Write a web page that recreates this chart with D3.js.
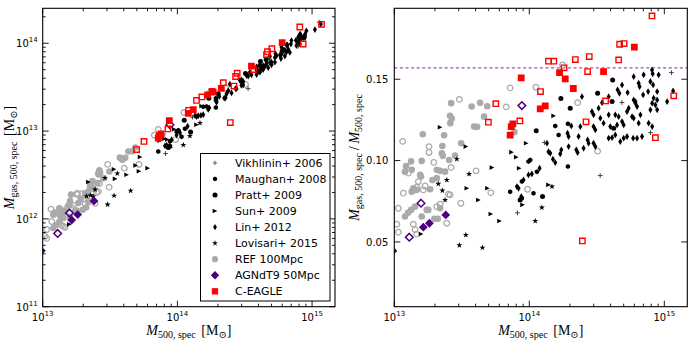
<!DOCTYPE html>
<html><head><meta charset="utf-8">
<script src="https://cdn.jsdelivr.net/npm/d3@7"></script>
<style>html,body{margin:0;padding:0;background:#fff}svg{display:block}</style>
</head><body>
<svg id="chart" width="691" height="343"></svg>
<script>
// ---------------- DATA: [log10(M500,spec / Msun), Mgas,500,spec / M500,spec] ----------------
const refFilled = [
[13.421,0.1353],[13.573,0.1332],[13.636,0.1355],[13.688,0.1334],[13.665,0.1270],[13.591,0.1209],[13.613,0.1207],
[13.413,0.1275],[13.426,0.1258],[13.415,0.1230],[13.369,0.1156],[13.211,0.1162],[13.356,0.1090],[13.495,0.1107],
[13.450,0.1031],[13.359,0.1029],[13.406,0.1004],[13.203,0.0998],[13.124,0.0995],[13.087,0.0967],[13.079,0.0932],
[13.129,0.0943],[13.315,0.0943],[13.339,0.0937],[13.376,0.0932],[13.315,0.0892],[13.198,0.0902],[13.141,0.0830],
[13.166,0.0820],[13.265,0.0824],[13.129,0.0809],[13.191,0.0912],[13.282,0.0881],[13.079,0.0656],[13.102,0.0679],
[13.124,0.0697],[13.154,0.0717],[13.240,0.0697],[13.252,0.0697],[13.203,0.0656],[13.297,0.0642],[13.322,0.0642],
[13.339,0.0707],[13.890,0.1175],[13.352,0.1045]
];
const refOpen = [
[13.482,0.1376],[13.062,0.1118],[13.257,0.1086],[13.257,0.1050],[13.292,0.0989],[13.421,0.0958],[13.606,0.0937],
[13.829,0.1330],[13.858,0.1447],[14.049,0.1451],[14.246,0.1588],[14.358,0.1356],[14.506,0.1058],[13.104,0.0923],
[13.178,0.0871],[13.166,0.0836],[13.228,0.0844],[13.215,0.0820],[13.067,0.0800],[13.401,0.0793],[13.030,0.0707],
[13.018,0.0609],[13.030,0.0560],[13.141,0.0609],[13.154,0.0576],[13.166,0.0548],[13.389,0.0615],[13.493,0.0738],
[13.315,0.0717],[13.339,0.0732],[13.413,0.0789],[13.715,0.0803],[13.987,0.0824]
];
const agnFilled = [[13.215,0.0591],[13.260,0.0615],[13.381,0.0666],[12.99,0.0445]];
const agnOpen = [[13.945,0.1338],[13.198,0.0738],[13.111,0.0529]];
const cEagleFilled = [
[14.778,0.1697],[14.550,0.1547],[14.224,0.1541],[14.266,0.1502],[14.326,0.1443],[13.940,0.1508],
[14.081,0.1318],[14.118,0.1336],[13.878,0.1226],[13.866,0.1209],[13.858,0.1156]
];
const cEagleOpen = [
[14.909,0.1889],[14.669,0.1715],[14.702,0.1719],[14.662,0.1619],[14.444,0.1639],[14.341,0.1621],[14.432,0.1547],
[14.142,0.1611],[14.182,0.1611],[14.257,0.1570],[14.083,0.1424],[14.565,0.1367],[13.752,0.1350],[13.697,0.1236],
[13.930,0.1244],[14.420,0.1238],[15.070,0.1398],[14.934,0.1141],[14.393,0.0506]
];
const vikhlinin = [[14.112,0.1111],[15.053,0.1541],[14.898,0.1172],[14.525,0.0908],[13.912,0.0679],[14.686,0.1357]];
const maughan = [
[14.192,0.1213],[14.286,0.1226],[14.217,0.1158],[14.007,0.1004],[13.994,0.0994],[14.056,0.0932],
[13.945,0.0871],[13.858,0.0809],[14.031,0.0800],[14.286,0.0963],[13.945,0.0768]
];
const pratt = [
[14.051,0.1184],[14.234,0.1381],[14.617,0.1496],[14.303,0.1322],[14.506,0.1414],[14.098,0.0779],
[13.932,0.0758],[14.613,0.1363],[14.625,0.1199]
];
const sun = [
[13.339,0.1205],[13.530,0.1086],[14.180,0.1275],[13.977,0.1107],[13.868,0.1052],[13.903,0.1021],[13.925,0.0953],
[13.723,0.0957],[14.142,0.0851],[13.537,0.0830],[13.623,0.0758],[13.715,0.0672],[13.779,0.0629],[13.950,0.0728],
[13.690,0.0830],[13.198,0.0549]
];
const lin = [
[14.847,0.1527],[14.909,0.1557],[14.914,0.1533],[14.958,0.1527],[14.773,0.1516],[14.810,0.1476],[14.817,0.1455],
[14.897,0.1486],[14.917,0.1465],[14.947,0.1424],[14.880,0.1424],[14.687,0.1465],[14.654,0.1435],[14.667,0.1414],
[14.728,0.1418],[14.843,0.1404],[15.065,0.1428],[14.773,0.1373],[14.786,0.1363],[14.921,0.1384],[14.947,0.1373],
[15.021,0.1363],[14.588,0.1393],[14.539,0.1356],[14.390,0.1393],
[14.311,0.1213],[14.378,0.1209],[14.283,0.1168],[14.291,0.1148],[14.365,0.1148],[14.432,0.1127],[14.439,0.1107],
[14.348,0.1066],[14.358,0.1049],[14.402,0.1076],[14.131,0.1107],[14.142,0.1055],[14.155,0.1045],[14.237,0.1066],
[14.229,0.1041],[14.291,0.1086],[14.175,0.1009],[14.192,0.0988],[13.994,0.0912],[14.019,0.0918],[14.076,0.0953],
[13.957,0.0881],[13.908,0.0840],[13.920,0.0830],[13.940,0.0779],
[14.476,0.1281],[14.464,0.1301],[14.513,0.1322],[14.526,0.1261],[14.550,0.1230],[14.588,0.1281],[14.637,0.1281],
[14.662,0.1270],[14.724,0.1301],[14.736,0.1322],[14.761,0.1270],[14.773,0.1261],[14.798,0.1332],[14.786,0.1353],
[14.823,0.1281],[14.897,0.1312],[14.910,0.1353],[14.934,0.1342],[14.947,0.1312],[14.810,0.1230],[14.884,0.1230],
[14.910,0.1209],[14.687,0.1240],[14.699,0.1219],[14.650,0.1219],[14.600,0.1209],[14.476,0.1209],[14.489,0.1189],
[14.588,0.1138],[14.613,0.1141],[14.637,0.1158],[14.674,0.1117],[14.699,0.1138],[14.724,0.1148],[14.769,0.1138],
[14.798,0.1138],[14.835,0.1148],[14.476,0.1107],[14.489,0.1086]
];
const lovisari = [
[13.326,0.0857],[13.389,0.0881],[13.376,0.0758],[13.482,0.0480],[13.530,0.0543],[13.653,0.0465],[14.044,0.0629],
[14.093,0.0711],[14.168,0.0840],[13.554,0.0918],[13.463,0.1009],[13.356,0.0816]
];
const baryonFraction = 0.157;
const legendLabels = ["Vikhlinin+ 2006","Maughan+ 2008","Pratt+ 2009","Sun+ 2009","Lin+ 2012","Lovisari+ 2015","REF 100Mpc","AGNdT9 50Mpc","C-EAGLE"];
const xMajorTicks = [1e13,1e14,1e15];
const yMajorTicksLog = [1e11,1e12,1e13,1e14];
const yTicksFrac = [0.05,0.10,0.15];

// ---------------- LAYOUT / STYLE ----------------
const svg = d3.select("#chart");
const GRAY = "#aaaaaa", INDIGO = "#4b0082", RED = "#ff0000";
const xDomain = [1e13, 1.48e15];
const L = {x0:42.7, x1:335, y0:8.3, y1:306.7};
const R = {x0:394.3, x1:687.3, y0:8.3, y1:306.7};

const xL = d3.scaleLog().domain(xDomain).range([L.x0, L.x1]);
const yL = d3.scaleLog().domain([1e11, 2.5e14]).range([L.y1, L.y0]);
const xR = d3.scaleLog().domain(xDomain).range([R.x0, R.x1]);
const yR = d3.scaleLinear().domain([0.0102, 0.1936]).range([R.y1, R.y0]);

// marker shapes
const shp = {
  square: s => `M${-s/2},${-s/2}h${s}v${s}h${-s}Z`,
  circle: r => `M${r},0A${r},${r} 0 1,1 ${-r},0A${r},${r} 0 1,1 ${r},0Z`,
  diamond: h => `M0,${-h}L${h},0L0,${h}L${-h},0Z`,
  thin: h => `M0,${-h}L${0.6*h},0L0,${h}L${-0.6*h},0Z`,
  tri: h => `M${h},0L${-h},${-h}L${-h},${h}Z`,
  star: r => d3.symbol(d3.symbolStar, r*r*1.6)(),
  plus: s => `M${-s},0H${s}M0,${-s}V${s}`,
  hex: r => d3.range(6).map((i)=>{const a=Math.PI/3*i+Math.PI/6;return (i?"L":"M")+(r*Math.cos(a)).toFixed(2)+","+(r*Math.sin(a)).toFixed(2);}).join("")+"Z"
};

const series = [
  {data: refFilled, d: shp.circle(3.3), fill: GRAY, stroke: "none"},
  {data: refOpen, d: shp.circle(2.8), fill: "none", stroke: GRAY, sw: 1.3},
  {data: lin, d: shp.thin(3.4), fill: "#000", stroke: "none"},
  {data: maughan, d: shp.hex(2.5), fill: "#000", stroke: "none"},
  {data: pratt, d: shp.circle(2.5), fill: "#000", stroke: "none"},
  {data: sun, d: shp.tri(2.3), fill: "#000", stroke: "none"},
  {data: lovisari, d: shp.star(2.7), fill: "#000", stroke: "none"},
  {data: vikhlinin, d: shp.plus(2.4), fill: "none", stroke: "#333", sw: 0.9},
  {data: agnOpen, d: shp.diamond(3.8), fill: "none", stroke: INDIGO, sw: 1.5},
  {data: agnFilled, d: shp.diamond(4.4), fill: INDIGO, stroke: "none"},
  {data: cEagleOpen, d: shp.square(5.4), fill: "none", stroke: RED, sw: 1.4},
  {data: cEagleFilled, d: shp.square(6.8), fill: RED, stroke: "none"}
];

const legendMarkers = [
  {d: shp.plus(2.2), fill:"none", stroke:"#555", sw:0.9},
  {d: shp.hex(2.4), fill:"#000"},
  {d: shp.circle(2.5), fill:"#000"},
  {d: shp.tri(2.3), fill:"#000"},
  {d: shp.thin(3.2), fill:"#000"},
  {d: shp.star(2.6), fill:"#000"},
  {d: shp.circle(3.1), fill: GRAY},
  {d: shp.diamond(4.2), fill: INDIGO},
  {d: shp.square(6.3), fill: RED}
];

const defs = svg.append("defs");
function clip(id, b){ defs.append("clipPath").attr("id", id).append("rect")
  .attr("x", b.x0).attr("y", b.y0).attr("width", b.x1-b.x0).attr("height", b.y1-b.y0); }
clip("clipL", L); clip("clipR", R);

function drawPoints(id, xs, ys, yOf){
  const g = svg.append("g").attr("clip-path", `url(#${id})`);
  series.forEach(s=>{
    g.selectAll(null).data(s.data).enter().append("path")
      .attr("d", s.d)
      .attr("transform", p => `translate(${xs(Math.pow(10,p[0])).toFixed(2)},${ys(yOf(p)).toFixed(2)})`)
      .attr("fill", s.fill).attr("stroke", s.stroke).attr("stroke-width", s.sw || 0);
  });
  return g;
}

function minorLog(domain){
  const out=[]; const lo=Math.floor(Math.log10(domain[0])), hi=Math.ceil(Math.log10(domain[1]));
  for(let e=lo;e<=hi;e++) for(let m=2;m<=9;m++){const v=m*Math.pow(10,e); if(v>domain[0]&&v<domain[1]) out.push(v);}
  return out;
}

function drawTicks(xs, ys, b, xMajor, xMinor, yMajor, yMinor){
  const g = svg.append("g");
  const tick = (vals, len, horiz) => {
    vals.forEach(v=>{
      if(horiz){ const x = xs(v);
        g.append("line").attr("x1",x).attr("x2",x).attr("y1",b.y1).attr("y2",b.y1-len);
        g.append("line").attr("x1",x).attr("x2",x).attr("y1",b.y0).attr("y2",b.y0+len);
      } else { const y = ys(v);
        g.append("line").attr("y1",y).attr("y2",y).attr("x1",b.x0).attr("x2",b.x0+len);
        g.append("line").attr("y1",y).attr("y2",y).attr("x1",b.x1).attr("x2",b.x1-len);
      }
    });
  };
  tick(xMajor, 6, true); tick(xMinor, 3, true); tick(yMajor, 6, false); tick(yMinor, 3, false);
  g.selectAll("line").attr("stroke","#000").attr("stroke-width",0.9);
  svg.append("rect").attr("x",b.x0).attr("y",b.y0).attr("width",b.x1-b.x0).attr("height",b.y1-b.y0)
    .attr("fill","none").attr("stroke","#000").attr("stroke-width",1.1);
}

function powLabel(g, x, y, v, anchor){
  const e = Math.round(Math.log10(v));
  const t = g.append("text").attr("x",x).attr("y",y).attr("text-anchor",anchor)
    .attr("font-family","DejaVu Sans, sans-serif").attr("font-size",10).attr("fill","#000");
  t.append("tspan").text("10");
  t.append("tspan").attr("dy",-5).attr("font-size",7).text(e);
}

// ---------------- LEFT PANEL ----------------
drawPoints("clipL", xL, yL, p => Math.pow(10,p[0])*p[1]);
drawTicks(xL, yL, L, xMajorTicks, minorLog(xDomain), yMajorTicksLog, minorLog([1e11,2.5e14]));
const lbl = svg.append("g");
xMajorTicks.forEach(v => powLabel(lbl, xL(v), 321, v, "middle"));
yMajorTicksLog.forEach(v => powLabel(lbl, L.x0-5, yL(v)+4, v, "end"));

// legend
const lg = svg.append("g");
lg.append("rect").attr("x",200.5).attr("y",153.5).attr("width",129.5).attr("height",147.5)
  .attr("fill","#fff").attr("stroke","#000").attr("stroke-width",1);
legendLabels.forEach((name,i)=>{
  const y = 162.9 + i*16.05;
  const m = legendMarkers[i];
  lg.append("path").attr("d", m.d).attr("transform",`translate(215,${y})`)
    .attr("fill", m.fill).attr("stroke", m.stroke||"none").attr("stroke-width", m.sw||0);
  lg.append("text").attr("x",235).attr("y",y+4).attr("font-family","DejaVu Sans, sans-serif")
    .attr("font-size",11).attr("fill","#000").text(name);
});

// ---------------- RIGHT PANEL ----------------
svg.append("line").attr("x1",R.x0).attr("x2",R.x1).attr("y1",yR(baryonFraction)).attr("y2",yR(baryonFraction))
  .attr("stroke","#a04cb8").attr("stroke-width",1.3).attr("stroke-dasharray","3,2.6");
drawPoints("clipR", xR, yR, p => p[1]);
drawTicks(xR, yR, R, xMajorTicks, minorLog(xDomain), yTicksFrac, []);
xMajorTicks.forEach(v => powLabel(lbl, xR(v), 321, v, "middle"));
yTicksFrac.forEach(v => lbl.append("text").attr("x",R.x0-6).attr("y",yR(v)+3.6).attr("text-anchor","end")
  .attr("font-family","DejaVu Sans, sans-serif").attr("font-size",10).text(d3.format(".2f")(v)));

// ---------------- AXIS LABELS ----------------
const SERIF = "Liberation Serif, DejaVu Serif, serif";
function massLabel(g, sub){
  const t = g.append("text").attr("font-family",SERIF).attr("font-size",14).attr("fill","#000");
  t.append("tspan").attr("font-style","italic").text("M");
  t.append("tspan").attr("font-size",10).attr("dy",3).text(sub);
  t.append("tspan").attr("dy",-3).text("\u2009\u2009[M");
  t.append("tspan").attr("font-size",10).attr("dy",3).text("\u2299");
  t.append("tspan").attr("dy",-3).text("]");
  return t;
}
massLabel(svg.append("g"), "500, spec").attr("x",(L.x0+L.x1)/2).attr("y",335).attr("text-anchor","middle");
massLabel(svg.append("g"), "500, spec").attr("x",(R.x0+R.x1)/2).attr("y",335).attr("text-anchor","middle");
massLabel(svg.append("g").attr("transform",`translate(14,${(L.y0+L.y1)/2}) rotate(-90)`), "gas, 500, spec")
  .attr("x",0).attr("y",0).attr("text-anchor","middle");
{
  const g = svg.append("g").attr("transform",`translate(359,${(R.y0+R.y1)/2}) rotate(-90)`);
  const t = g.append("text").attr("font-family",SERIF).attr("font-size",14).attr("text-anchor","middle");
  t.append("tspan").attr("font-style","italic").text("M");
  t.append("tspan").attr("font-size",10).attr("dy",3).text("gas, 500, spec");
  t.append("tspan").attr("dy",-3).text("\u2009/\u2009");
  t.append("tspan").attr("font-style","italic").text("M");
  t.append("tspan").attr("font-size",10).attr("dy",3).text("500, spec");
}
</script>
</body></html>
